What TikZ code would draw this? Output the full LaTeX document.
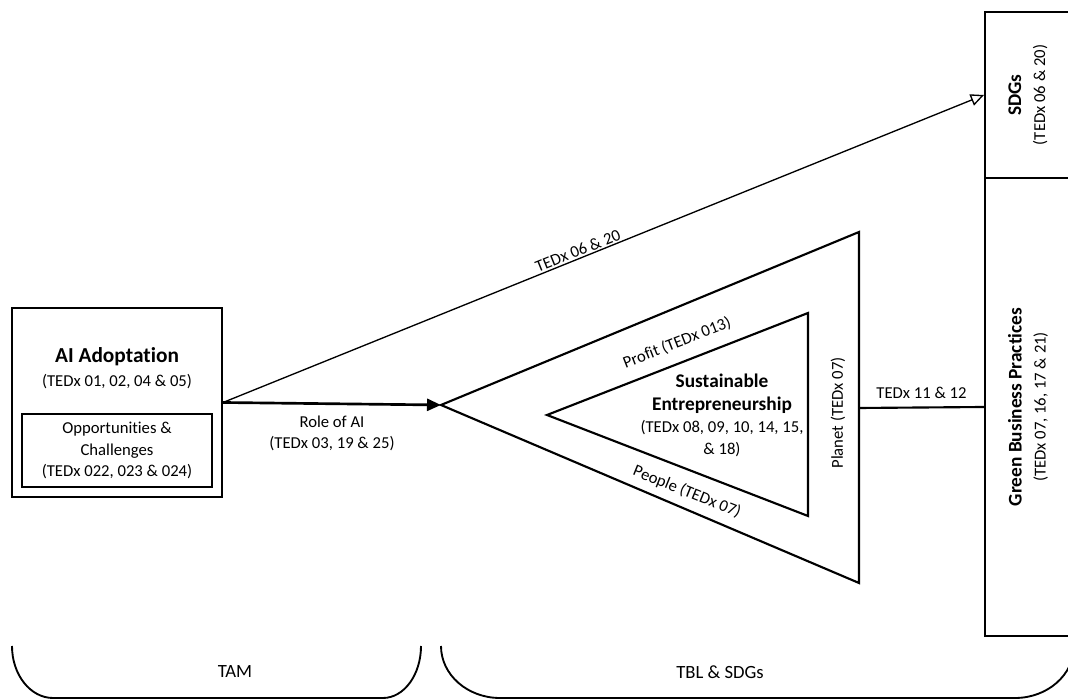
\documentclass[tikz,border=0pt]{standalone}
\usepackage{fontspec}
\setmainfont{Carlito}[Ligatures=NoCommon]
\usepackage{tikz}
\usetikzlibrary{arrows.meta,positioning,calc}
\definecolor{figink}{HTML}{000000}

\begin{document}
\begin{tikzpicture}[x=0.75pt,y=0.75pt,
  box/.style={draw=figink, line width=1.5pt, inner sep=0pt},
  lbl/.style={text=figink, font=\fontsize{12.5}{16.1}\selectfont, align=center, inner sep=1pt},
  lblb/.style={text=figink, font=\fontsize{14.5}{17.25}\selectfont\bfseries, align=center, inner sep=1pt},
  edge/.style={draw=figink, line width=1.6pt, line join=miter},
  bracket/.style={draw=figink, line width=1.4pt}]
\def\brtop{53}
\def\brbot{1}
\useasboundingbox (0,0) rectangle (1068,699);
\clip (0,0) rectangle (1068,699);

% TAM side
\node[box, minimum width=157.5pt, minimum height=141.75pt] (ai) at (117,296.5) {};
\node[box, minimum width=142.5pt, minimum height=54.75pt] (oc) at (117,248.5) {};
\node[lbl] (ocText) at (oc.center) {Opportunities \&\\Challenges\\(TEDx 022, 023 \& 024)};
\node[text=figink, font=\fontsize{16}{19}\selectfont\bfseries] (aiTitle) at (117,342) {AI Adoptation};
\node[lbl] (aiRef) at (117,317) {(TEDx 01, 02, 04 \& 05)};

% TBL triangles
\coordinate (oL) at (441,294);
\coordinate (oT) at (859,467);
\coordinate (oB) at (859,116);
\coordinate (oR) at (859,291);
\coordinate (iL) at (547,284);
\coordinate (iT) at (808,386);
\coordinate (iB) at (808,183);
\draw[edge] (oL) -- (oT) -- (oB) -- cycle;
\draw[edge] (iL) -- (iT) -- (iB) -- cycle;

\node[lblb] (se) at (722,305.5) {Sustainable\\Entrepreneurship};
\node[lbl, font=\fontsize{12.5}{16.5}\selectfont] (seRef) at (722,260) {(TEDx 08, 09, 10, 14, 15,\\\& 18)};
\node[lbl, rotate=21.3] (profit) at (677,356) {Profit (TEDx 013)};
\node[lbl, rotate=-22] (people) at (687,207) {People (TEDx 07)};
\node[lbl, rotate=90] (planet) at (838,286) {Planet (TEDx 07)};

% SDGs / green practices column
\node[box, minimum width=65.25pt, minimum height=124.5pt] (sdg) at (1028.5,604) {};
\node[box, minimum width=65.25pt, minimum height=343.5pt] (gbp) at (1028.5,292) {};
\node[lbl, rotate=90, font=\fontsize{12.5}{18}\selectfont] (sdgText) at (1028,604)
  {{\fontsize{14.5}{18}\selectfont\bfseries SDGs}\\(TEDx 06 \& 20)};
\node[lbl, rotate=90, font=\fontsize{12.5}{18}\selectfont] (gbpText) at (1028,292)
  {{\fontsize{14.5}{18}\selectfont\bfseries Green Business Practices}\\(TEDx 07, 16, 17 \& 21)};

% connectors
\draw[figink, line width=2pt, -{Triangle[length=10.5pt,width=9pt]}] (ai.east) -- (oL)
  node[lbl, midway, below=7pt] (roleLbl) {Role of AI\\(TEDx 03, 19 \& 25)};
\draw[figink, line width=1pt, -{Triangle[open,length=10pt,width=9pt]}] (ai.east) -- (sdg.west)
  node[lbl, pos=0.47, sloped, above=0pt] (sdgLbl) {TEDx 06 \& 20};
\draw[edge] (oR) -- (gbp.west)
  node[lbl, midway, above=5pt] (gbpLbl) {TEDx 11 \& 12};

% brackets
\draw[bracket] (12,\brtop) arc[start angle=180, end angle=270, x radius=41, y radius=52]
  -- (383,\brbot) arc[start angle=270, end angle=360, x radius=38, y radius=52];
\draw[bracket] (441,\brtop) arc[start angle=180, end angle=270, x radius=59, y radius=52]
  -- (1015,\brbot) arc[start angle=270, end angle=360, x radius=59, y radius=52];
\node[lbl, font=\fontsize{14}{17}\selectfont] (tam) at (235,27) {TAM};
\node[lbl, font=\fontsize{14}{17}\selectfont] (tbl) at (720,27) {TBL \& SDGs};
\end{tikzpicture}
\end{document}
